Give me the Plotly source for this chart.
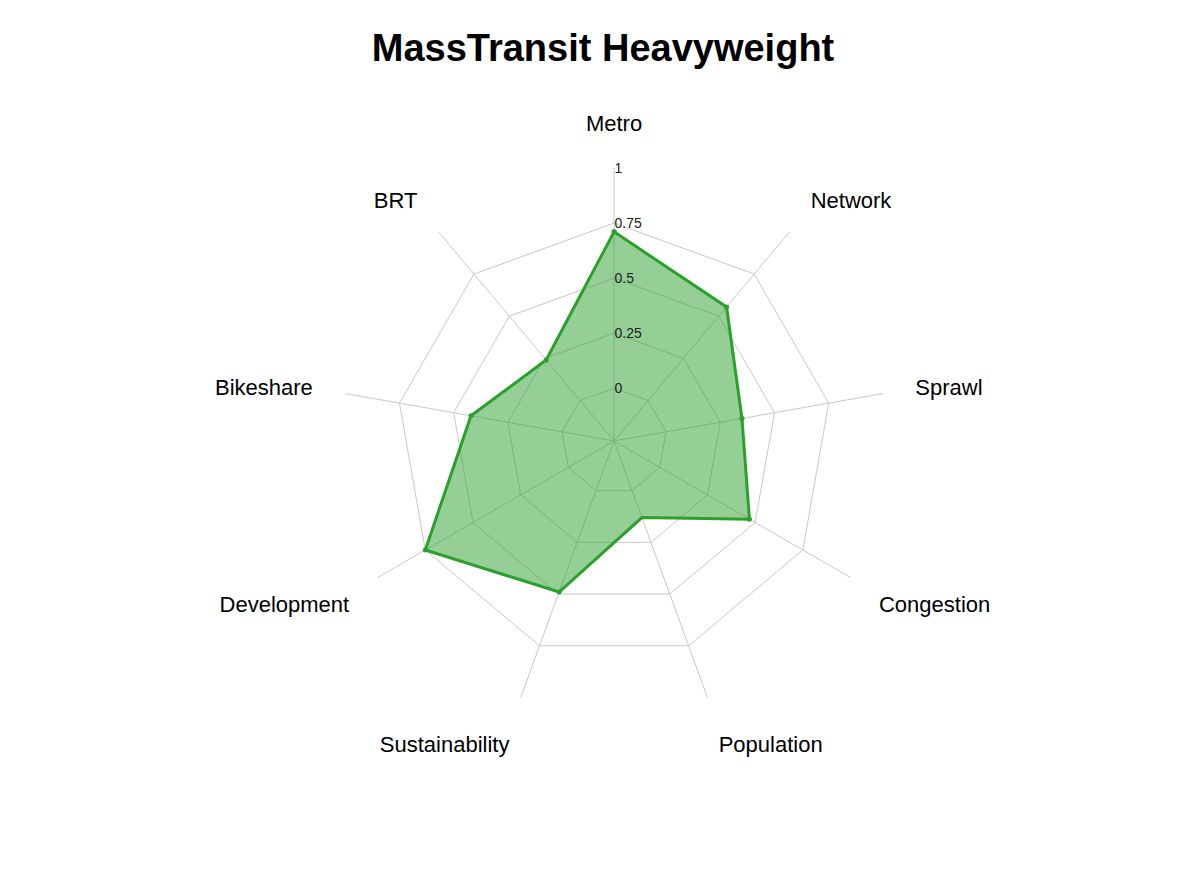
import plotly.graph_objects as go

categories = ["Metro", "Network", "Sprawl", "Congestion", "Population",
              "Sustainability", "Development", "Bikeshare", "BRT"]
values = [0.71, 0.555, 0.35, 0.47, 0.13, 0.49, 0.75, 0.42, 0.24]
tick_vals = [0, 0.25, 0.5, 0.75, 1]
tick_text = ["0", "0.25", "0.5", "0.75", "1"]

fig = go.Figure()
fig.add_trace(go.Scatterpolar(
    r=values + [values[0]], theta=categories + [categories[0]],
    mode="lines+markers", fill="toself",
    fillcolor="rgba(44,160,44,0.5)",
    line=dict(color="#2ca02c", width=3), marker=dict(size=5, color="#2ca02c"),
    showlegend=False))

fig.update_layout(
    width=1190, height=886, paper_bgcolor="white",
    margin=dict(l=0, r=0, t=0, b=0),
    font=dict(family="Liberation Sans, Arial, sans-serif", color="black"),
    title=dict(text="<b>MassTransit Heavyweight</b>", x=0.5, xanchor="center",
               y=0.955, yanchor="middle", font=dict(size=38)),
    polar=dict(
        domain=dict(x=[0.2799, 0.7387], y=[0.2032, 0.8194]),
        bgcolor="white", gridshape="linear",
        radialaxis=dict(range=[-0.24, 1], tickvals=tick_vals, ticktext=tick_text,
                        angle=90, tickangle=90, showline=False, ticks="",
                        gridcolor="#c8c8c8", tickfont=dict(size=14, color="#222")),
        angularaxis=dict(direction="clockwise", rotation=90, showline=False,
                         gridcolor="#c8c8c8", ticks="outside", ticklen=28,
                         tickcolor="rgba(0,0,0,0)",
                         tickfont=dict(size=22)),
    ),
)
fig.write_html("out.html")
